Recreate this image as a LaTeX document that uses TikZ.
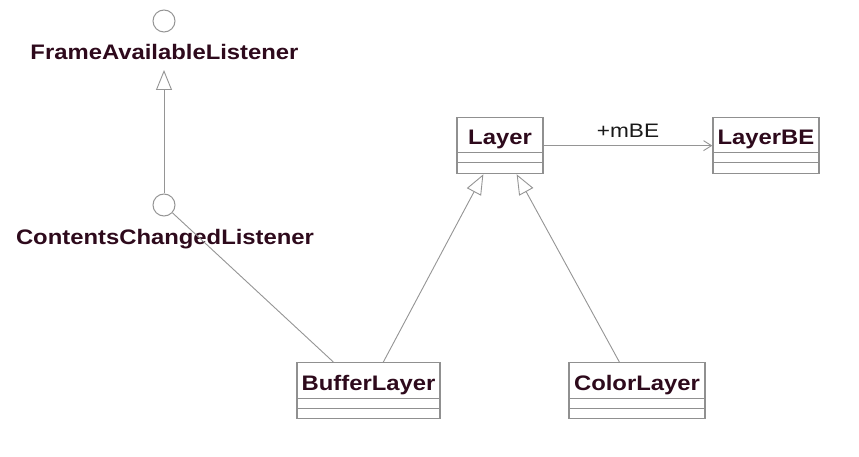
\documentclass[tikz,border=0pt]{standalone}
\usepackage{fontspec}
\setmainfont{Liberation Sans}
\newfontfamily\umlfont{Liberation Sans}[FakeStretch=1.135]
\newfontfamily\umllblfont{Liberation Sans}[FakeStretch=1.16]
\usetikzlibrary{arrows.meta}
\definecolor{txt}{HTML}{2E0A1C}
\definecolor{edge}{HTML}{959595}
\definecolor{boxline}{HTML}{909090}
\newcommand\umlcls[5]{%
  \node[clsbox, minimum width=#4pt, anchor=north] (#1) at (#2,#3) {};
  \node[clsname, anchor=base] (#1-n) at ([yshift=-28pt]#1.north) {#5};
  \draw[compline] ([yshift=-36pt]#1.north west) -- ([yshift=-36pt]#1.north east);
  \draw[compline] ([yshift=-46pt]#1.north west) -- ([yshift=-46pt]#1.north east);
}
\begin{document}
\begin{tikzpicture}[x=1pt,y=-1pt,
  clsbox/.style={draw=boxline, line width=1.3pt, fill=white, rectangle, inner sep=0pt, minimum height=56pt},
  compline/.style={draw=boxline, line width=1pt},
  clsname/.style={text=txt, font=\umlfont\bfseries\fontsize{21}{25}\selectfont, inner sep=0pt},
  lbl/.style={text=black!90, font=\umllblfont\fontsize{19.5}{23}\selectfont, inner sep=0pt},
  iface/.style={circle, draw=edge, line width=1pt, fill=white, minimum size=22pt, inner sep=0pt},
  conn/.style={draw=edge, line width=0.9pt},
  inherit/.style={conn, -{Triangle[open, length=20pt, width=16pt, line width=0.9pt]}},
  assoc/.style={conn, -{Straight Barb[length=8pt, width=10pt, line width=0.9pt]}}]
  \fill[white] (0,0) rectangle (859,457);
  \useasboundingbox (0,0) rectangle (859,457);

  \umlcls{layer}{500}{117}{86}{Layer}
  \umlcls{layerbe}{766}{117}{106}{LayerBE}
  \umlcls{buffer}{368.5}{362}{143}{BufferLayer}
  \umlcls{color}{637}{362}{136}{ColorLayer}

  \node[iface] (fal) at (164,21) {};
  \node[clsname, anchor=base] (fal-l) at (164.5,60) {FrameAvailableListener};
  \node[iface] (ccl) at (164,205) {};
  \node[clsname, anchor=base] (ccl-l) at (165,244) {ContentsChangedListener};
  \coordinate (falTip) at (164,70);

  \draw[inherit] (ccl) -- (falTip);
  \draw[conn] (ccl) -- ([xshift=37pt]buffer.north west);
  \draw[inherit] ([xshift=87pt]buffer.north west) -- ([xshift=27pt]layer.south west);
  \draw[inherit] ([xshift=51pt]color.north west) -- ([xshift=-27pt]layer.south east);
  \draw[assoc] (layer.east) -- (layerbe.west);
  \node[lbl, anchor=base] (mbe) at (628,138) {+mBE};
\end{tikzpicture}
\end{document}
